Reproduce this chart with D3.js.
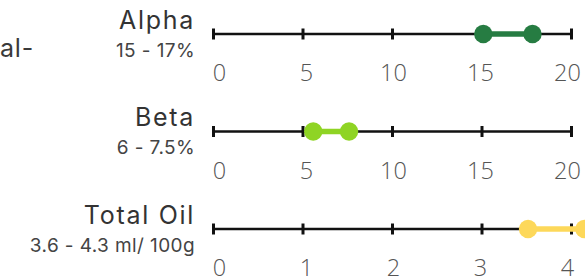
<!DOCTYPE html>
<html>
<head>
<meta charset="utf-8">
<script src="https://cdn.jsdelivr.net/npm/d3@7.9.0/dist/d3.min.js"></script>
<style>
  html, body { margin: 0; padding: 0; background: #fff; overflow: hidden; }
  svg { display: block; }
</style>
</head>
<body>
<svg id="chart" width="585" height="279"></svg>
<script>
// values
const names = ['Alpha', 'Beta', 'Total Oil'];
const ranges = ['15 - 17%', '6 - 7.5%', '3.6 - 4.3 ml/ 100g'];
const lows = [15.1, 5.6, 3.52];
const highs = [17.85, 7.6, 4.15];
const axisMax = [20, 20, 4];
const tickValues = [[0, 5, 10, 15, 20], [0, 5, 10, 15, 20], [0, 1, 2, 3, 4]];
const colors = ['#267c42', '#8fd424', '#fdd85a'];

const width = 585, height = 279;
const svg = d3.select('#chart');

// row positions (axis line y)
const rowY = d3.scalePoint().domain(names).range([34, 229]);

// clipped word on the far left
svg.append('text')
  .attr('x', 0).attr('y', 57)
  .attr('font-family', 'Inter, sans-serif')
  .attr('font-size', 25)
  .attr('letter-spacing', 0.8)
  .attr('fill', '#3a3a3a')
  .text('al-');

names.forEach((name, i) => {
  const x = d3.scaleLinear().domain([0, axisMax[i]]).range([213, 571]);
  // the number row under each line sits a bit inside the line ends
  const xLabel = d3.scaleLinear().domain([0, axisMax[i]]).range([219, 567]);
  const g = svg.append('g').attr('transform', `translate(0,${rowY(name)})`);

  // labels on the left
  g.append('text')
    .attr('x', 195).attr('y', -5.5)
    .attr('text-anchor', 'end')
    .attr('font-family', 'Inter, sans-serif')
    .attr('font-size', 25)
    .attr('letter-spacing', 1.7)
    .attr('fill', '#333')
    .text(name);
  g.append('text')
    .attr('x', 195).attr('y', 22.5)
    .attr('text-anchor', 'end')
    .attr('font-family', 'Inter, sans-serif')
    .attr('font-size', 19)
    .attr('letter-spacing', 0.4)
    .attr('fill', '#444')
    .text(ranges[i]);

  // axis
  const axis = g.append('g')
    .call(d3.axisBottom(x).tickValues(tickValues[i]).tickSize(0).tickFormat(d3.format('d')));
  axis.select('.domain').remove();
  axis.insert('line', ':first-child')
    .attr('x1', x(0)).attr('x2', x(axisMax[i]))
    .attr('stroke', '#111').attr('stroke-width', 2.6);
  axis.selectAll('.tick line')
    .attr('y1', -5.5).attr('y2', 5.5)
    .attr('stroke', '#111').attr('stroke-width', 3);
  axis.selectAll('.tick text')
    .attr('x', d => xLabel(d) - x(d))
    .attr('y', 47).attr('dy', null)
    .attr('font-family', '"Open Sans", sans-serif')
    .attr('font-weight', 300)
    .attr('font-size', 23.5)
    .attr('fill', '#555');

  // range bar
  g.append('line')
    .attr('x1', x(lows[i])).attr('x2', x(highs[i]))
    .attr('stroke', colors[i]).attr('stroke-width', 5.5);
  g.selectAll('circle.dot')
    .data([lows[i], highs[i]])
    .join('circle')
    .attr('class', 'dot')
    .attr('cx', d => x(d))
    .attr('r', 9.2)
    .attr('fill', colors[i]);
});
</script>
</body>
</html>
